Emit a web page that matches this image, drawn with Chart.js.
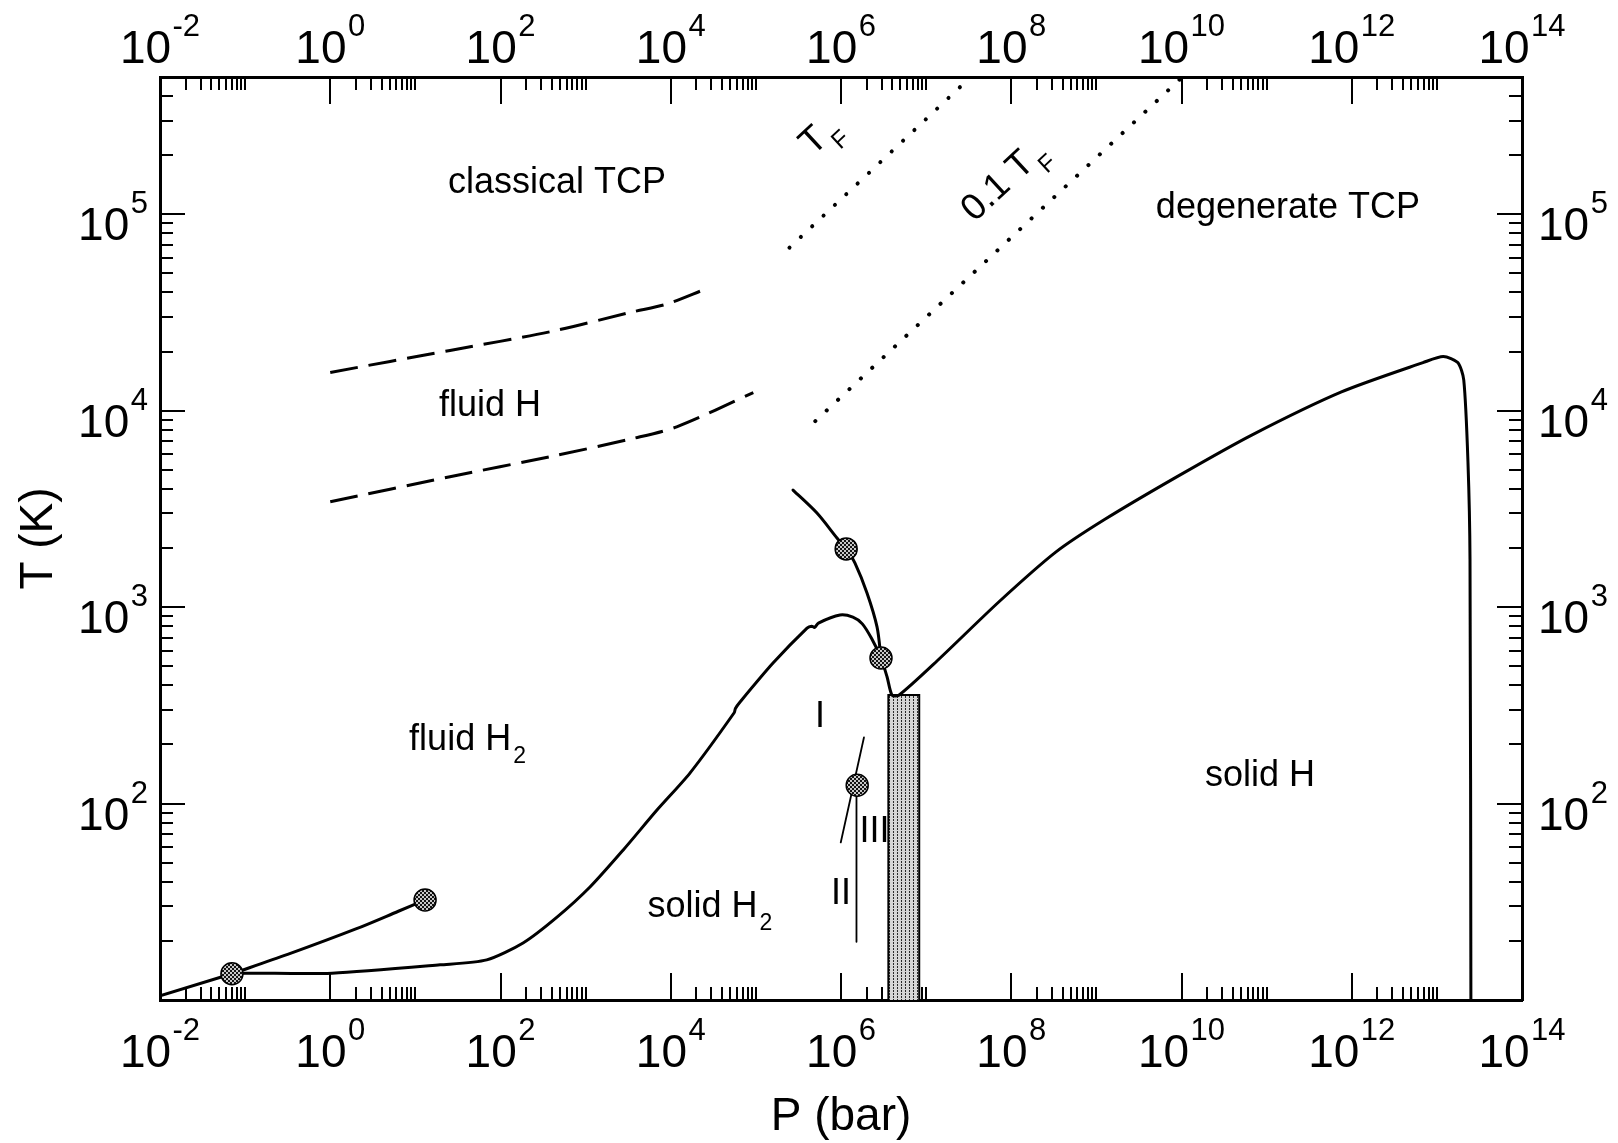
<!DOCTYPE html>
<html><head><meta charset="utf-8">
<script src="https://cdn.jsdelivr.net/npm/chart.js@4.4.1/dist/chart.umd.min.js"></script>
<style>html,body{margin:0;padding:0;background:#fff;overflow:hidden}#wrap{width:1618px;height:1143px;position:relative}</style>
</head><body><div id="wrap"><canvas id="c"></canvas></div>
<script>
// ---------------- data (P in bar, T in K) ----------------
const sublimP = [0.01, 0.07];
const sublimT = [10.5, 13.6];
const boilP = [0.07, 0.316, 2.0, 6.31, 13.0];
const boilT = [13.6, 17.06, 23.0, 28.3, 32.3];
const meltP = [0.07, 0.1, 1.05, 19.5, 68.9, 184, 461, 1125, 2750, 6890, 16800, 55600, 57500, 65200, 159000, 399000, 452000, 490000, 543000, 973000, 1.38e6, 1.78e6, 2.29e6, 2.95e6, 3.48e6, 3.98e6,
               4.78e6, 1.36e7, 7.13e7, 3.33e8, 1.26e9, 9.1e9, 6.68e10, 7.57e11, 6.87e12, 1.19e13, 1.76e13, 2.07e13, 2.32e13, 2.45e13, 2.51e13];
const meltT = [13.6, 13.7, 13.7, 15.1, 16.0, 19.5, 26.4, 37.6, 57.9, 92.7, 143, 290, 305, 329, 519, 782, 800, 788, 830, 912, 889, 822, 692, 551, 441, 356,
               356, 535, 1062, 1905, 2800, 4645, 7516, 12470, 17580, 18880, 17580, 14320, 5445, 1758, 10];
const dissocP = [2.73e5, 5.22e5, 8.97e5, 1.15e6, 1.46e6, 2.02e6, 2.65e6, 2.95e6];
const dissocT = [3945, 3013, 2249, 1980, 1675, 1180, 793, 551];
const slantP = [9.93e5, 1.86e6];
const slantT = [63.4, 217];
const vertP = [1.52e6, 1.52e6];
const vertT = [124, 19.8];
const markP = [0.07, 13.0, 1.15e6, 2.95e6, 1.55e6];
const markT = [13.6, 32.3, 1980, 551, 124];
const dashHiP = [1, 25.5, 381, 3630, 8950, 25200];
const dashHiT = [15670, 20280, 25230, 31920, 34910, 41500];
const dashLoP = [1, 25.5, 381, 3630, 11750, 93300];
const dashLoT = [3440, 4613, 5834, 7228, 8279, 12360];
const fermiP = [2.48e5, 3.1e7];
const fermiT = [67600, 4.85e5];
const fermi01P = [4.99e5, 9.5e9];
const fermi01T = [8850, 4.85e5];
const rectP = [3.6e6, 8.3e6];
const rectT = [357];

const xMajorExp = [-2, 0, 2, 4, 6, 8, 10, 12, 14];
const yMajorExp = [2, 3, 4, 5];

const labelText = ['classical TCP', 'degenerate TCP', 'fluid H', 'fluid H', 'solid H', 'solid H', 'I', 'III', 'II'];
const labelSub  = ['', '', '', '2', '2', '', '', '', ''];
const labelP    = [461, 1.78e11, 75.3, 41.0, 28900, 8.36e10, 5.66e5, 2.48e6, 1.0e6];
const labelT    = [128300, 95700, 9400, 187, 26.4, 122.7, 245, 63.7, 30.8];
const rotText = ['T', '0.1 T'];
const rotSub  = ['F', 'F'];
const rotP    = [4.65e5, 3.69e7];
const rotT    = [1.97e5, 9.06e4];

// ---------------- helpers ----------------
const FONT = '"Liberation Sans", Arial, Helvetica, sans-serif';
const toXY = (P, T) => P.map((p, i) => ({x: p, y: T[i]}));
function makePattern(w, h, draw) {
  const c = document.createElement('canvas'); c.width = w; c.height = h;
  const g = c.getContext('2d'); draw(g); return g.createPattern(c, 'repeat');
}
const markerFill = makePattern(4, 4, g => {
  g.fillStyle = '#c8c8c8'; g.fillRect(0, 0, 4, 4);
  g.fillStyle = '#141414'; g.fillRect(0, 0, 2, 2); g.fillRect(2, 2, 2, 2);
});
const rectFill = makePattern(4, 3, g => {
  g.fillStyle = '#d6d6d6'; g.fillRect(0, 0, 4, 3);
  g.fillStyle = '#2a2a2a'; g.fillRect(1, 0, 1, 2);
});

const solid = (P, T, extra) => Object.assign({data: toXY(P, T), borderColor: '#000', borderWidth: 3, pointRadius: 0, fill: false, tension: 0.3, borderJoinStyle: 'round', borderCapStyle: 'round', order: 2}, extra || {});

const datasets = [
  {data: toXY(markP, markT), showLine: false, pointRadius: 11, pointBackgroundColor: markerFill, pointBorderColor: '#000', pointBorderWidth: 1.5, order: 0},
  solid(sublimP, sublimT, {tension: 0}),
  solid(boilP, boilT),
  solid(meltP, meltT, {tension: 0.25}),
  solid(dissocP, dissocT),
  solid(slantP, slantT, {borderWidth: 1.8, tension: 0}),
  solid(vertP, vertT, {borderWidth: 1.8, tension: 0}),
  solid(dashHiP, dashHiT, {borderDash: [28, 11], borderCapStyle: 'butt'}),
  solid(dashLoP, dashLoT, {borderDash: [28, 11], borderCapStyle: 'butt'}),
  solid(fermiP, fermiT, {borderDash: [0.1, 15.5], borderWidth: 4, tension: 0}),
  solid(fermi01P, fermi01T, {borderDash: [0.1, 15.5], borderWidth: 4, tension: 0}),
  {data: [{x: rectP[0], y: 10}, {x: rectP[0], y: rectT[0]}, {x: rectP[1], y: rectT[0]}, {x: rectP[1], y: 10}],
   borderColor: '#000', borderWidth: 2, pointRadius: 0, tension: 0, fill: 'start', backgroundColor: rectFill, order: 5}
];

function drawPow(ctx, exp, x, y, align) {
  const big = '46px ' + FONT, small = '31px ' + FONT;
  ctx.font = big; const w1 = ctx.measureText('10').width;
  ctx.font = small; const es = String(exp); const w2 = ctx.measureText(es).width;
  const gap = 1.5, tot = w1 + gap + w2;
  let x0 = align === 'center' ? x - tot / 2 : (align === 'right' ? x - tot : x);
  ctx.textAlign = 'left'; ctx.textBaseline = 'alphabetic';
  ctx.font = big; ctx.fillText('10', x0, y);
  ctx.font = small; ctx.fillText(es, x0 + w1 + gap, y - 27);
}

const decor = {
  id: 'decor',
  beforeDatasetsDraw(chart) {
    const {ctx, chartArea: a} = chart; const xs = chart.scales.x, ys = chart.scales.y;
    ctx.save(); ctx.strokeStyle = '#000'; ctx.lineWidth = 2; ctx.lineCap = 'butt';
    const vt = (v, len) => { const px = Math.round(xs.getPixelForValue(v));
      ctx.beginPath(); ctx.moveTo(px, a.bottom); ctx.lineTo(px, a.bottom - len);
      ctx.moveTo(px, a.top); ctx.lineTo(px, a.top + len); ctx.stroke(); };
    const ht = (v, len) => { const py = Math.round(ys.getPixelForValue(v));
      ctx.beginPath(); ctx.moveTo(a.left, py); ctx.lineTo(a.left + len, py);
      ctx.moveTo(a.right, py); ctx.lineTo(a.right - len, py); ctx.stroke(); };
    xMajorExp.forEach((e, i) => {
      vt(Math.pow(10, e), 27);
      if (i < xMajorExp.length - 1) {
        for (let m = 2; m <= 9; m++) vt(m * Math.pow(10, e), 13);
        vt(Math.pow(10, e + 1), 13);
      }
    });
    yMajorExp.forEach(e => ht(Math.pow(10, e), 25));
    for (let e = 1; e <= 5; e++) for (let m = 2; m <= 9; m++) { const v = m * Math.pow(10, e); if (v < 5e5) ht(v, 13); }
    ctx.restore();
  },
  afterDraw(chart) {
    const {ctx, chartArea: a} = chart; const xs = chart.scales.x, ys = chart.scales.y;
    ctx.save(); ctx.fillStyle = '#000';
    xMajorExp.forEach(e => {
      const px = xs.getPixelForValue(Math.pow(10, e));
      drawPow(ctx, e, px, a.bottom + 67, 'center');
      drawPow(ctx, e, px, a.top - 14, 'center');
    });
    yMajorExp.forEach(e => {
      const py = ys.getPixelForValue(Math.pow(10, e));
      drawPow(ctx, e, a.left - 12, py + 26, 'right');
      drawPow(ctx, e, a.right + 16, py + 26, 'left');
    });
    // axis titles
    ctx.font = '46px ' + FONT; ctx.textAlign = 'center'; ctx.textBaseline = 'alphabetic';
    ctx.fillText('P (bar)', (a.left + a.right) / 2, a.bottom + 130);
    ctx.save(); ctx.translate(52, (a.top + a.bottom) / 2); ctx.rotate(-Math.PI / 2);
    ctx.fillText('T (K)', 0, 0); ctx.restore();
    // region labels
    labelText.forEach((t, i) => {
      const px = xs.getPixelForValue(labelP[i]), py = ys.getPixelForValue(labelT[i]);
      ctx.font = '36px ' + FONT; const w1 = ctx.measureText(t).width;
      ctx.font = '23px ' + FONT; const w2 = labelSub[i] ? ctx.measureText(labelSub[i]).width + 2 : 0;
      const x0 = px - (w1 + w2) / 2;
      ctx.textAlign = 'left';
      ctx.font = '36px ' + FONT; ctx.fillText(t, x0, py);
      if (labelSub[i]) { ctx.font = '23px ' + FONT; ctx.fillText(labelSub[i], x0 + w1 + 2, py + 13); }
    });
    // rotated Fermi labels
    rotText.forEach((t, i) => {
      const px = xs.getPixelForValue(rotP[i]), py = ys.getPixelForValue(rotT[i]);
      ctx.save(); ctx.translate(px, py); ctx.rotate(-43 * Math.PI / 180);
      ctx.textAlign = 'left'; ctx.font = '37px ' + FONT; ctx.fillText(t, 0, 0);
      const w = ctx.measureText(t).width;
      ctx.font = '24px ' + FONT; ctx.fillText(rotSub[i], w + 2, 14);
      ctx.restore();
    });
    ctx.restore();
  }
};

const axisBase = (pos, min, max) => ({
  type: 'logarithmic', position: pos, min: min, max: max,
  ticks: {display: false},
  grid: {display: true, drawOnChartArea: false, drawTicks: false},
  border: {display: true, width: 3, color: '#000'},
  title: {display: false},
  afterFit(s) { if (pos === 'left' || pos === 'right') s.width = 0; else s.height = 0; }
});

new Chart(document.getElementById('c'), {
  type: 'line',
  data: {datasets: datasets},
  options: {
    responsive: true, maintainAspectRatio: false, animation: false, events: [],
    layout: {padding: {left: 160, right: 96, top: 77, bottom: 143}},
    plugins: {legend: {display: false}, tooltip: {enabled: false}},
    scales: {
      x: axisBase('bottom', 1e-2, 1e14),
      x2: Object.assign(axisBase('top', 1e-2, 1e14), {axis: 'x'}),
      y: axisBase('left', 10, 5e5),
      y2: Object.assign(axisBase('right', 10, 5e5), {axis: 'y'})
    }
  },
  plugins: [decor]
});
</script>
</body></html>
